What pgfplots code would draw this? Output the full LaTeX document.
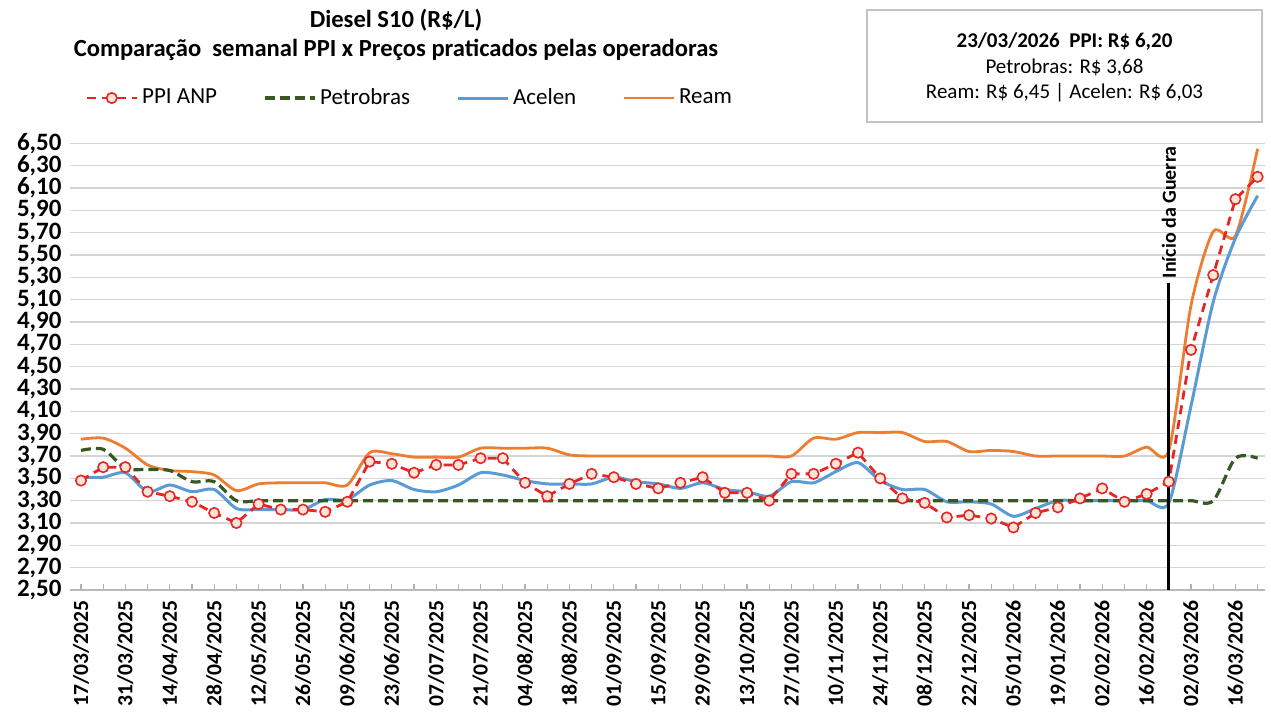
\documentclass[border=0pt]{standalone}
\usepackage{pgfplots}
\pgfplotsset{compat=1.18}
\usepackage{pgfplotstable}
\usepackage{fontspec}
\setmainfont{Carlito}
\definecolor{ppired}{RGB}{228,38,38}
\definecolor{ppifill}{RGB}{253,228,214}
\definecolor{pbgreen}{RGB}{56,87,35}
\definecolor{acblue}{RGB}{91,155,213}
\definecolor{reamor}{RGB}{237,125,49}
\definecolor{gridgray}{RGB}{212,212,212}
\definecolor{boxgray}{RGB}{195,195,195}

\pgfplotstableread{
i ppi petro acelen ream
0 3.48 3.75 3.51 3.85
1 3.60 3.76 3.51 3.86
2 3.60 3.59 3.55 3.77
3 3.38 3.58 3.38 3.62
4 3.34 3.57 3.44 3.57
5 3.29 3.47 3.38 3.56
6 3.19 3.47 3.40 3.53
7 3.10 3.30 3.23 3.39
8 3.27 3.30 3.22 3.45
9 3.22 3.30 3.22 3.46
10 3.22 3.30 3.22 3.46
11 3.20 3.30 3.31 3.46
12 3.29 3.30 3.31 3.44
13 3.65 3.30 3.44 3.73
14 3.63 3.30 3.48 3.72
15 3.55 3.30 3.40 3.69
16 3.62 3.30 3.38 3.69
17 3.62 3.30 3.44 3.69
18 3.68 3.30 3.55 3.77
19 3.68 3.30 3.53 3.77
20 3.46 3.30 3.48 3.77
21 3.34 3.30 3.45 3.77
22 3.45 3.30 3.45 3.71
23 3.54 3.30 3.45 3.70
24 3.51 3.30 3.51 3.70
25 3.45 3.30 3.47 3.70
26 3.41 3.30 3.45 3.70
27 3.46 3.30 3.41 3.70
28 3.51 3.30 3.46 3.70
29 3.37 3.30 3.40 3.70
30 3.37 3.30 3.38 3.70
31 3.30 3.30 3.34 3.70
32 3.54 3.30 3.47 3.70
33 3.54 3.30 3.46 3.86
34 3.63 3.30 3.56 3.85
35 3.73 3.30 3.64 3.91
36 3.50 3.30 3.48 3.91
37 3.32 3.30 3.40 3.91
38 3.28 3.30 3.40 3.83
39 3.15 3.30 3.29 3.83
40 3.17 3.30 3.29 3.74
41 3.14 3.30 3.27 3.75
42 3.06 3.30 3.16 3.74
43 3.19 3.30 3.23 3.70
44 3.24 3.30 3.30 3.70
45 3.32 3.30 3.30 3.70
46 3.41 3.30 3.30 3.70
47 3.29 3.30 3.30 3.70
48 3.36 3.30 3.30 3.78
49 3.47 3.30 3.28 3.75
50 4.65 3.30 4.15 5.05
51 5.32 3.30 5.08 5.71
52 6.00 3.68 5.65 5.67
53 6.20 3.68 6.03 6.45
}\data

\begin{document}
\begin{tikzpicture}
\useasboundingbox (0,0) rectangle (635.5pt,357pt);
\begin{axis}[
  at={(34.95pt,62pt)}, anchor=south west,
  scale only axis, width=597.75pt, height=223.35pt,
  xmin=-0.5, xmax=53.35, ymin=2.5, ymax=6.5,
  axis x line*=bottom, axis y line*=left,
  y axis line style={draw=none},
  x axis line style={draw=gray!55, line width=0.8pt},
  ytick={2.5,2.7,2.9,3.1,3.3,3.5,3.7,3.9,4.1,4.3,4.5,4.7,4.9,5.1,5.3,5.5,5.7,5.9,6.1,6.3,6.5},
  ymajorgrids, grid style={gridgray, line width=0.8pt},
  ytick style={draw=none},
  yticklabel style={font=\fontsize{12.5}{13}\selectfont\bfseries, anchor=east, inner sep=0pt,
    /pgf/number format/.cd, fixed, fixed zerofill, precision=2, use comma, assume math mode=true},
  yticklabel shift=4pt,
  xtick={0,2,...,52},
  minor xtick={1,3,...,53},
  xticklabels={17/03/2025,31/03/2025,14/04/2025,28/04/2025,12/05/2025,26/05/2025,09/06/2025,23/06/2025,07/07/2025,21/07/2025,04/08/2025,18/08/2025,01/09/2025,15/09/2025,29/09/2025,13/10/2025,27/10/2025,10/11/2025,24/11/2025,08/12/2025,22/12/2025,05/01/2026,19/01/2026,02/02/2026,16/02/2026,02/03/2026,16/03/2026},
  xticklabel style={rotate=90, anchor=east, inner sep=0pt, font=\fontsize{10.8}{11}\selectfont\bfseries},
  xticklabel shift=5pt,
  tick align=inside,
  major tick length=3pt, minor tick length=3pt,
  xtick style={draw=gray!60, line width=0.6pt},
  minor x tick style={draw=gray!60, line width=0.6pt},
  clip=false,
  legend columns=4,
  legend cell align=left,
  legend image code/.code={\draw[mark repeat=2,mark phase=2,#1] plot coordinates {(0pt,0pt) (12.5pt,0pt) (25pt,0pt)};},
  legend style={at={(axis description cs:0.0126,1.1014)}, anchor=west, draw=none, fill=none,
    font=\fontsize{11.5}{12}\selectfont, inner sep=0pt,
    /tikz/every even column/.append style={column sep=21pt}},
]
\addlegendimage{ppired, line width=1.4pt, dash pattern=on 4.5pt off 3pt, mark=*, mark size=2.6pt, mark options={solid, fill=ppifill, draw=ppired, line width=0.8pt}}
\addlegendentry{PPI ANP}
\addlegendimage{pbgreen, line width=1.6pt, dash pattern=on 5pt off 2.5pt}
\addlegendentry{Petrobras}
\addlegendimage{acblue, line width=1.5pt}
\addlegendentry{Acelen}
\addlegendimage{reamor, line width=1.4pt}
\addlegendentry{Ream}

\addplot[reamor, line width=1.4pt, smooth, tension=0.45, forget plot] table[x=i,y=ream]{\data};
\addplot[acblue, line width=1.5pt, smooth, tension=0.45, forget plot] table[x=i,y=acelen]{\data};
\addplot[pbgreen, line width=1.6pt, dash pattern=on 5pt off 2.5pt, smooth, tension=0.5, forget plot] table[x=i,y=petro]{\data};
\addplot[ppired, line width=1.4pt, dash pattern=on 4.5pt off 3pt, mark=*, mark size=2.6pt, mark options={solid, fill=ppifill, draw=ppired, line width=0.8pt}, forget plot] table[x=i,y=ppi]{\data};
\addplot[black, line width=1.4pt, forget plot] coordinates {(49,2.5) (49,5.25)};
\node[rotate=90, anchor=west, font=\fontsize{10}{11}\selectfont\bfseries, inner sep=1pt] at (axis cs:49,5.27) {Início da Guerra};
\end{axis}
\node[font=\fontsize{12.3}{13}\selectfont\bfseries] at (198pt,347pt) {Diesel S10 (R\$/L)};
\node[font=\fontsize{12.3}{13}\selectfont\bfseries] at (198pt,332pt) {Comparação\ \ semanal PPI x Preços praticados pelas operadoras};
\draw[boxgray, line width=0.8pt] (433.5pt,296pt) rectangle (631pt,352pt);
\node[font=\fontsize{10.5}{12}\selectfont\bfseries] at (532.25pt,336pt) {23/03/2026\ \ PPI: R\$ 6,20};
\node[font=\fontsize{10.5}{12}\selectfont] at (532.25pt,323pt) {Petrobras: R\$ 3,68};
\node[font=\fontsize{10.5}{12}\selectfont] at (532.25pt,310.5pt) {Ream: R\$ 6,45 | Acelen: R\$ 6,03};
\end{tikzpicture}
\end{document}
